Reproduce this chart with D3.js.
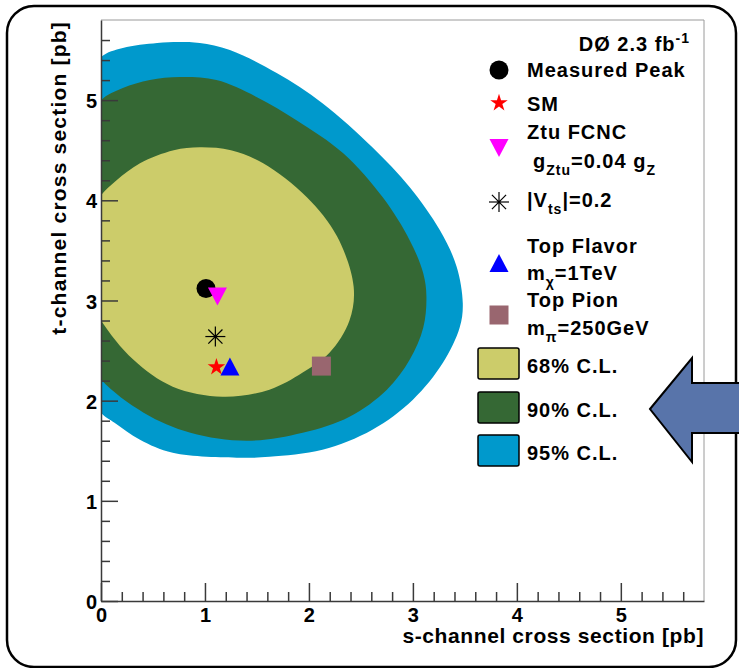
<!DOCTYPE html>
<html>
<head>
<meta charset="utf-8">
<script src="https://cdn.jsdelivr.net/npm/d3@7"></script>
<style>
    body { margin: 0; background: #fff; }
    svg text {
        font-family: "Liberation Sans", Arial, Helvetica, sans-serif;
        font-weight: bold;
        fill: #000;
    }
    .frame { fill: none; stroke: #000; stroke-width: 2.5px; }
    .axis path, .axis line { stroke: #3a3a3a; stroke-width: 1.5px; }
    .axis text { font-size: 20px; }
    .box { fill: none; stroke: #9a9a9a; stroke-width: 1px; }
    .title { font-size: 21px; letter-spacing: 0.6px; }
    .leg { font-size: 20px; letter-spacing: 1px; }
</style>
</head>
<body>
<script>

    // contours in (s-channel, t-channel) pb
    var contour95 = [[0,5.43],[0.21,5.52],[0.54,5.57],[0.75,5.58],[0.95,5.57],[1.24,5.50],[1.69,5.27],
        [2.13,4.97],[2.61,4.53],[2.97,4.13],[3.26,3.70],[3.42,3.34],[3.48,2.97],[3.45,2.73],[3.29,2.38],
        [3.0,2.01],[2.61,1.71],[2.13,1.51],[1.62,1.44],[1.34,1.43],[0.69,1.48],[0.375,1.61],[0.13,1.78],
        [0,1.88],[-0.25,2.3],[-0.35,3.6],[-0.2,5.1]];
    var contour90 = [[0,5.0],[0.21,5.12],[0.47,5.2],[0.76,5.23],[1.11,5.20],[1.50,5.03],[1.88,4.80],
        [2.33,4.47],[2.71,4.03],[2.97,3.60],[3.10,3.27],[3.13,3.04],[3.10,2.73],[2.97,2.41],[2.75,2.11],
        [2.39,1.84],[1.94,1.68],[1.40,1.60],[0.86,1.68],[0.41,1.88],[0,2.21],[-0.25,2.6],[-0.35,3.6],[-0.2,4.7]];
    var contour68 = [[0,4.05],[0.15,4.20],[0.375,4.37],[0.7,4.5],[0.95,4.53],[1.25,4.5],[1.56,4.37],
        [1.98,4.03],[2.27,3.64],[2.43,3.14],[2.39,2.80],[2.20,2.48],[1.94,2.28],[1.62,2.11],[1.17,2.04],
        [0.69,2.14],[0.31,2.41],[0,2.80],[-0.15,3.1],[-0.2,3.5],[-0.12,3.85]];

    var clLabels = ["68% C.L.", "90% C.L.", "95% C.L."];
    var clColors = ["#cccc6a", "#356834", "#0099cc"];

    var models = ["Measured Peak", "SM", "Ztu FCNC", "|V_{ts}|=0.2", "Top Flavor", "Top Pion"];
    var modelSub = ["", "", " g_{Ztu}=0.04 g_{Z}", "", "m_{χ}=1TeV", "m_{π}=250GeV"];
    var modelS = [1.01, 1.11, 1.12, 1.10, 1.24, 2.12];
    var modelT = [3.12, 2.345, 3.04, 2.64, 2.34, 2.345];
    var modelMarker = ["circle", "star", "tridown", "asterisk", "triup", "square"];
    var modelColor = ["#000000", "#ff0000", "#ff00ff", "#000000", "#0000ff", "#99666f"];

    var majorTicks = [0, 1, 2, 3, 4, 5];
    var minorTicks = d3.range(1, 29).map(function (i) { return i / 5; })
        .filter(function (v) { return Math.abs(v - Math.round(v)) > 1e-6; });

    var width = 739, height = 668;
    var plotL = 101, plotR = 704, plotT = 20, plotB = 601;

    var svg = d3.select("body").append("svg")
        .attr("width", width)
        .attr("height", height);

    var x = d3.scaleLinear().domain([0, 5.8]).range([plotL, plotR]);
    var y = d3.scaleLinear().domain([0, 5.8]).range([plotB, plotT]);

    svg.append("rect").attr("class", "frame")
        .attr("x", 7).attr("y", 6).attr("width", 729).attr("height", 661)
        .attr("rx", 27).attr("ry", 27);

    svg.append("clipPath").attr("id", "plotclip")
        .append("rect").attr("x", plotL).attr("y", plotT)
        .attr("width", plotR - plotL).attr("height", plotB - plotT);

    var line = d3.line()
        .x(function (d) { return x(d[0]); })
        .y(function (d) { return y(d[1]); })
        .curve(d3.curveCatmullRomClosed.alpha(0.5));

    var plot = svg.append("g").attr("clip-path", "url(#plotclip)");
    [contour95, contour90, contour68].forEach(function (c, i) {
        plot.append("path")
            .attr("d", line(c))
            .style("fill", clColors[2 - i]);
    });

    // markers
    function marker(g, type, cx, cy, color) {
        if (type === "circle") {
            g.append("circle").attr("cx", cx).attr("cy", cy).attr("r", 9.5).style("fill", color);
        } else if (type === "star") {
            g.append("path").attr("d", d3.symbol().type(d3.symbolStar).size(95)())
                .attr("transform", "translate(" + cx + "," + (cy + 1) + ")").style("fill", color);
        } else if (type === "tridown" || type === "triup") {
            var s = type === "triup" ? -1 : 1;
            g.append("path")
                .attr("d", "M" + (cx - 9.5) + "," + (cy - s * 9) + "L" + (cx + 9.5) + "," + (cy - s * 9) +
                    "L" + cx + "," + (cy + s * 9) + "Z")
                .style("fill", color);
        } else if (type === "square") {
            g.append("rect").attr("x", cx - 9.5).attr("y", cy - 9.5)
                .attr("width", 19).attr("height", 19).style("fill", color);
        } else if (type === "asterisk") {
            [0, 45, 90, 135].forEach(function (a) {
                var r = 10, dx = r * Math.cos(a * Math.PI / 180), dy = r * Math.sin(a * Math.PI / 180);
                g.append("line").attr("x1", cx - dx).attr("y1", cy - dy)
                    .attr("x2", cx + dx).attr("y2", cy + dy)
                    .style("stroke", color).style("stroke-width", 1.2);
            });
            g.append("circle").attr("cx", cx).attr("cy", cy).attr("r", 1.5).style("fill", color);
        }
    }

    var marks = svg.append("g");
    models.forEach(function (m, i) {
        marker(marks, modelMarker[i], x(modelS[i]), y(modelT[i]), modelColor[i]);
    });

    // axes, ROOT style ticks pointing inward
    svg.append("line").attr("class", "box").attr("x1", plotL).attr("x2", plotR).attr("y1", plotT).attr("y2", plotT);
    svg.append("line").attr("class", "box").attr("x1", plotR).attr("x2", plotR).attr("y1", plotT).attr("y2", plotB);

    var xMinor = svg.append("g").attr("class", "axis")
        .attr("transform", "translate(0," + plotB + ")")
        .call(d3.axisBottom(x).tickValues(minorTicks).tickSize(-9).tickSizeOuter(0).tickFormat(""));
    xMinor.select(".domain").remove();
    svg.append("g").attr("class", "axis")
        .attr("transform", "translate(0," + plotB + ")")
        .call(d3.axisBottom(x).tickValues(majorTicks).tickSize(-18).tickSizeOuter(0).tickPadding(7)
            .tickFormat(d3.format("d")));

    var yMinor = svg.append("g").attr("class", "axis")
        .attr("transform", "translate(" + plotL + ",0)")
        .call(d3.axisLeft(y).tickValues(minorTicks).tickSize(-9).tickSizeOuter(0).tickFormat(""));
    yMinor.select(".domain").remove();
    svg.append("g").attr("class", "axis")
        .attr("transform", "translate(" + plotL + ",0)")
        .call(d3.axisLeft(y).tickValues(majorTicks).tickSize(-17).tickSizeOuter(0).tickPadding(4)
            .tickFormat(d3.format("d")))
        .selectAll("text").attr("dy", "0.38em");

    svg.selectAll(".axis text").style("fill", "#000").style("font-family", "'Liberation Sans', Arial, sans-serif");

    svg.append("text").attr("class", "title")
        .attr("x", plotR).attr("y", 643)
        .attr("text-anchor", "end")
        .text("s-channel cross section [pb]");

    svg.append("text").attr("class", "title")
        .attr("transform", "translate(66," + (plotT + 1) + ") rotate(-90)")
        .attr("text-anchor", "end")
        .style("letter-spacing", "1.2px")
        .text("t-channel cross section [pb]");

    // rich text: _{..} subscript, ^{..} superscript
    function richText(g, tx, ty, str, cls) {
        var t = g.append("text").attr("class", cls).attr("x", tx).attr("y", ty);
        var parts = str.split(/(_\{[^}]*\}|\^\{[^}]*\})/).filter(function (p) { return p.length; });
        var shift = 0;
        parts.forEach(function (p) {
            var want = 0, txt = p, small = false;
            if (p[0] === "_") { want = 7; txt = p.slice(2, -1); small = true; }
            if (p[0] === "^") { want = -8; txt = p.slice(2, -1); small = true; }
            var ts = t.append("tspan").attr("dy", want - shift).text(txt);
            if (small) ts.style("font-size", "14px");
            shift = want;
        });
        return t;
    }

    var leg = svg.append("g");
    richText(leg, 690, 51, "DØ 2.3 fb^{-1}", "leg").attr("text-anchor", "end");

    var legMarkY = [70, 102, 148, 202, 263, 315];
    var legLine1 = [77, 110.5, 139, 207, 253, 307];
    var legLine2 = [0, 0, 168, 0, 280, 335];
    models.forEach(function (m, i) {
        marker(leg, modelMarker[i], 499, legMarkY[i], modelColor[i]);
        richText(leg, 527, legLine1[i], m, "leg");
        if (modelSub[i]) {
            var sub = modelSub[i];
            var lead = sub[0] === " ";
            richText(leg, lead ? 533 : 527, legLine2[i], sub.trim(), "leg");
        }
    });

    var boxY = [348, 392, 435];
    clLabels.forEach(function (l, i) {
        leg.append("rect").attr("x", 478).attr("y", boxY[i]).attr("width", 41).attr("height", 31)
            .attr("rx", 2).style("fill", clColors[i]).style("stroke", "#000").style("stroke-width", 1.5);
        richText(leg, 527, boxY[i] + 25, l, "leg");
    });

    // the big arrow pointing at the 90% entry
    var tip = [650, 409];
    var arrow = [[0, 0], [42, -51], [42, -26], [100, -26], [100, 24], [42, 24], [42, 53]];
    svg.append("path")
        .attr("d", d3.line()(arrow.map(function (p) { return [tip[0] + p[0], tip[1] + p[1]]; })) + "Z")
        .style("fill", "#5874aa")
        .style("stroke", "#000")
        .style("stroke-width", 2);

</script>
</body>
</html>
